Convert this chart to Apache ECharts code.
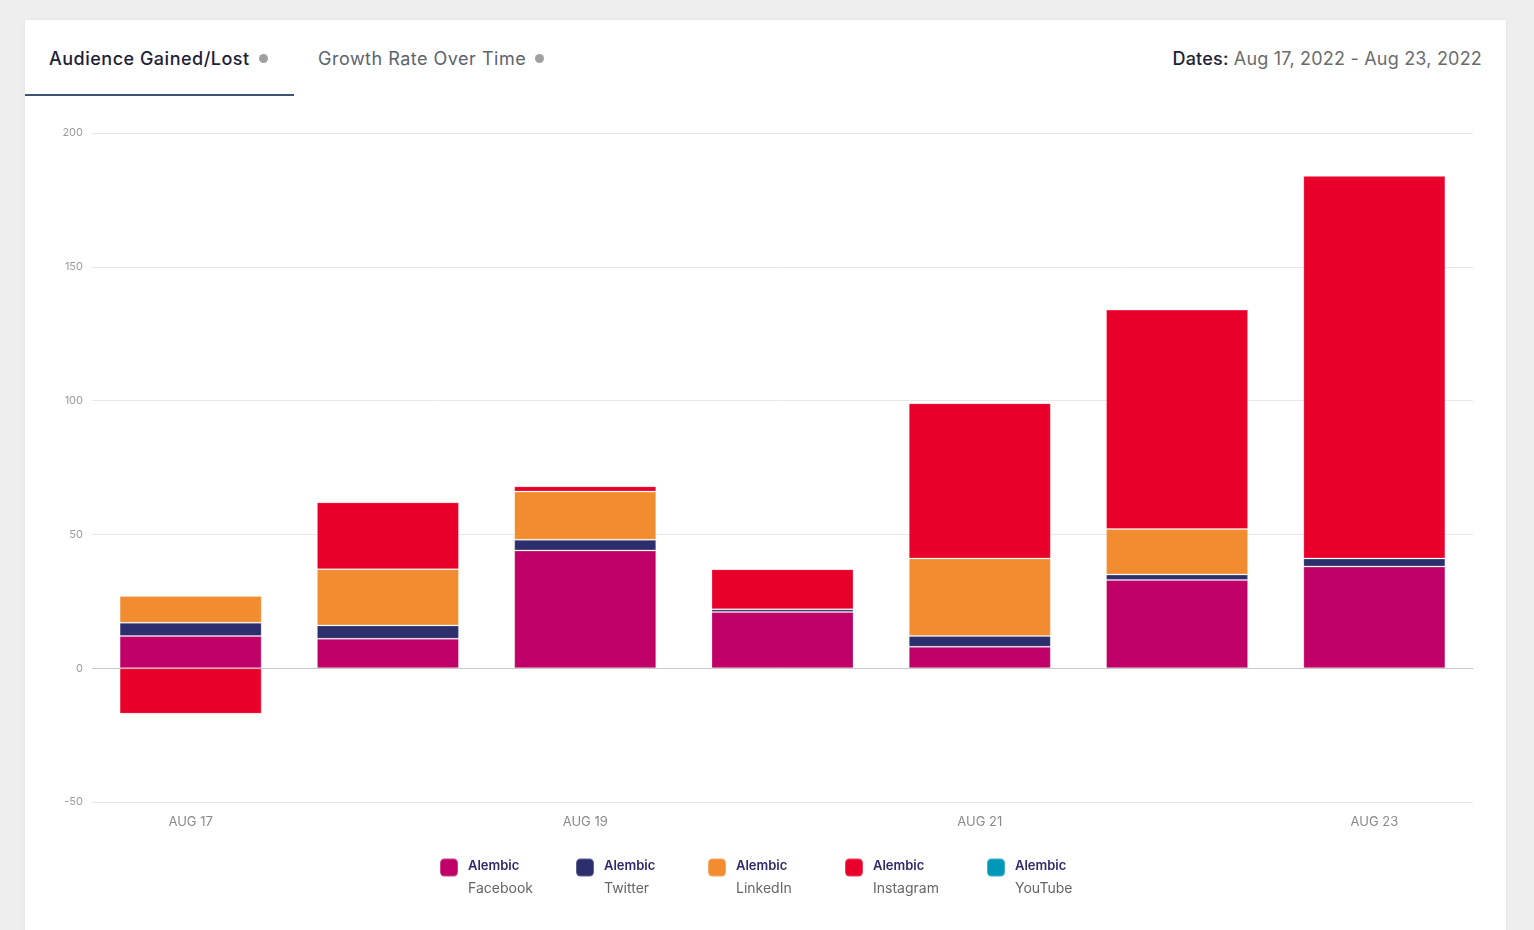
<!DOCTYPE html>
<html>
<head>
<meta charset="utf-8">
<script src="https://cdn.jsdelivr.net/npm/echarts@6/dist/echarts.min.js"></script>
<style>
  html, body { margin: 0; padding: 0; background: #eeeeee; width: 1534px; height: 930px; overflow: hidden; font-family: Inter, "Open Sans", sans-serif; }
  .card { position: absolute; left: 25px; top: 20px; width: 1481px; height: 940px; background: #fff; box-shadow: 0 0 3px rgba(0,0,0,0.06); }
  .tab { position: absolute; top: 27px; font-size: 18px; height: 24px; line-height: 24px; white-space: nowrap; letter-spacing: 0.5px; }
  .tab1 { left: 24px; color: #1c2136; font-weight: 500; }
  .tab2 { left: 293px; color: #5c6370; }
  .info { display: inline-block; width: 9px; height: 9px; border-radius: 50%; background: #a0a0a0; margin-left: 9px; vertical-align: 2px; }
  .underline { position: absolute; left: 0; top: 74px; width: 269px; height: 2px; background: #3e5475; }
  .dates { position: absolute; right: 24px; top: 27px; font-size: 18px; line-height: 24px; color: #6b6b6b; white-space: nowrap; letter-spacing: 0.2px; }
  .dates b { color: #1c2136; font-weight: 500; }
  #chart { position: absolute; left: 0; top: 0; width: 1534px; height: 930px; }
</style>
</head>
<body>
<div class="card">
  <div class="tab tab1">Audience Gained/Lost<span class="info"></span></div>
  <div class="tab tab2">Growth Rate Over Time<span class="info"></span></div>
  <div class="underline"></div>
  <div class="dates"><b>Dates:</b> Aug 17, 2022 - Aug 23, 2022</div>
</div>
<div id="chart"></div>
<script>
var days = ["AUG 17", "AUG 18", "AUG 19", "AUG 20", "AUG 21", "AUG 22", "AUG 23"];
var facebook = [12, 11, 44, 21, 8, 33, 38];
var twitter = [5, 5, 4, 1, 4, 2, 3];
var linkedin = [10, 21, 18, 0, 29, 17, 0];
var instagram = [-17, 25, 2, 15, 58, 82, 143];
var youtube = [0, 0, 0, 0, 0, 0, 0];
var yTicks = { min: -50, max: 200, interval: 50 };

var seriesDefs = [
  { name: "Facebook", data: facebook, color: "#bf0067", labelWidth: 70 },
  { name: "Twitter", data: twitter, color: "#2c2e6e", labelWidth: 66 },
  { name: "LinkedIn", data: linkedin, color: "#f28c30", labelWidth: 71 },
  { name: "Instagram", data: instagram, color: "#e8002b", labelWidth: 76 },
  { name: "YouTube", data: youtube, color: "#0097b8", labelWidth: 63 }
];

// legend text styles, one width per item so the spacing follows the original
var legendRich = {
  s: { lineHeight: 21, fontSize: 13 },
  a: { lineHeight: 21, fontSize: 13, fontWeight: 600, color: "#2d2a6e" }
};
seriesDefs.forEach(function (s, i) {
  legendRich["b" + i] = { lineHeight: 23, fontSize: 14, color: "#666", width: s.labelWidth };
});

var myChart = echarts.init(document.getElementById("chart"));
var option = {
  textStyle: { fontFamily: "Inter, 'Open Sans', sans-serif" },
  grid: { left: 92, right: 61, top: 133, bottom: 128 },
  xAxis: {
    type: "category",
    data: days,
    axisTick: { show: false },
    axisLine: { lineStyle: { color: "#c8c8c8" } },
    axisLabel: { interval: 1, color: "#8a8a8a", fontSize: 13, margin: 14 }
  },
  yAxis: {
    type: "value",
    min: yTicks.min,
    max: yTicks.max,
    interval: yTicks.interval,
    axisLine: { show: false },
    axisTick: { show: false },
    axisLabel: { color: "#9a9a9a", fontSize: 11, margin: 9 },
    splitLine: { lineStyle: { color: "#e8e8e8" } }
  },
  legend: {
    left: 439,
    top: 839,
    padding: 0,
    itemWidth: 18,
    itemHeight: 18,
    itemGap: 37,
    icon: "roundRect",
    selectedMode: false,
    formatter: function (name) {
      var idx = seriesDefs.findIndex(function (s) { return s.name === name; });
      return "{s| }\n{a|Alembic}\n{b" + idx + "|" + name + "}";
    },
    textStyle: {
      padding: [0, 0, 0, 5],
      rich: legendRich
    }
  },
  series: seriesDefs.map(function (s) {
    return {
      name: s.name,
      type: "bar",
      stack: "total",
      barWidth: "72%",
      data: s.data,
      itemStyle: { color: s.color, borderColor: "rgba(255,255,255,0.25)", borderWidth: 1 }
    };
  })
};
option && myChart.setOption(option);
</script>
</body>
</html>
